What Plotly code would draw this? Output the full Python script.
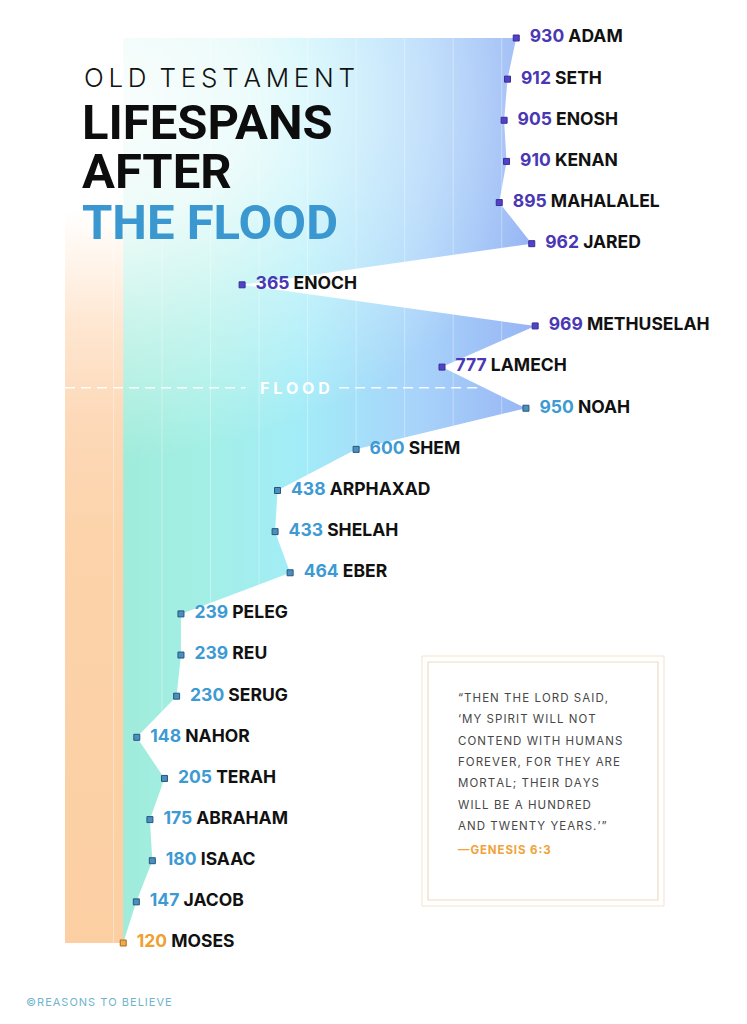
import plotly.graph_objects as go

# ---------------- data ----------------
names = ["ADAM", "SETH", "ENOSH", "KENAN", "MAHALALEL", "JARED", "ENOCH",
         "METHUSELAH", "LAMECH", "NOAH", "SHEM", "ARPHAXAD", "SHELAH", "EBER",
         "PELEG", "REU", "SERUG", "NAHOR", "TERAH", "ABRAHAM", "ISAAC", "JACOB", "MOSES"]
lifespans = [930, 912, 905, 910, 895, 962, 365, 969, 777, 950, 600, 438, 433, 464,
             239, 239, 230, 148, 205, 175, 180, 147, 120]
era = ["pre"] * 9 + ["post"] * 13 + ["limit"]
limit_years = 120
flood_row = 8.5
grid_years = [100, 200, 300, 400, 500, 600, 700, 800, 900]

quote_lines = ["\u201cTHEN THE LORD SAID,",
               "\u2018MY SPIRIT WILL NOT",
               "CONTEND WITH HUMANS",
               "FOREVER, FOR THEY ARE",
               "MORTAL; THEIR DAYS",
               "WILL BE A HUNDRED",
               "AND TWENTY YEARS.\u2019\u201d"]
quote_source = "\u2014GENESIS 6:3"

# ---------------- styles ----------------
PAGE_W, PAGE_H = 747, 1024
OFF = 8                      # default body margin of the html page
W, H = PAGE_W - 2 * OFF, PAGE_H - 2 * OFF
num_col = {"pre": "#4a37b4", "post": "#3d9ad2", "limit": "#f0a030"}
mk_fill = {"pre": "#5142c6", "post": "#4a8fbe", "limit": "#f2a94c"}
mk_line = {"pre": "#3a2e9c", "post": "#25577d", "limit": "#a86c1e"}
FONT = "Inter"

def P(px):
    return (px - OFF) / W

def Q(py):
    return 1 - (py - OFF) / H

def spaced(s, sep="\u2009"):
    return sep.join(list(s))

rows = list(range(len(names)))
n_last = rows[-1]

# axis mapping: value 0 -> page x 65, 0.4852 px per year ; row 0 -> page y 38, 41.136 px per row
ppy = 0.4852
ppr = 41.136
x0_px, y0_px = 65 - OFF, 38 - OFF
x_range = [-x0_px / ppy, (W - x0_px) / ppy]
y_range = [(H - y0_px) / ppr, -y0_px / ppr]

fig = go.Figure()

# main lifespan area
fig.add_trace(go.Scatter(
    x=lifespans + [0, 0], y=rows + [n_last, 0],
    mode="lines", fill="toself", line=dict(width=0, color="rgba(0,0,0,0)"),
    fillgradient=dict(type="horizontal", start=0, stop=max(lifespans),
                      colorscale=[[0.0, "#9ee9d2"], [0.3, "#a3efe6"], [0.5, "#a2ecf8"],
                                  [0.75, "#a8d3fa"], [1.0, "#97b4f4"]]),
    hoverinfo="skip", showlegend=False))

# white glow in the upper-left corner
gx0, gx1, gy0, gy1 = -950, 1030, -7.2, 10.3
fig.add_trace(go.Scatter(
    x=[gx0, gx1, gx1, gx0, gx0], y=[gy0, gy0, gy1, gy1, gy0],
    mode="lines", fill="toself", line=dict(width=0, color="rgba(0,0,0,0)"),
    fillgradient=dict(type="radial",
                      colorscale=[[0.0, "rgba(255,255,255,0.97)"], [0.35, "rgba(255,255,255,0.8)"],
                                  [0.65, "rgba(255,255,255,0.4)"], [1.0, "rgba(255,255,255,0)"]]),
    hoverinfo="skip", showlegend=False))

# 120-year band (white at top fading into peach)
fig.add_trace(go.Scatter(
    x=[0, limit_years, limit_years, 0, 0], y=[0, 0, n_last, n_last, 0],
    mode="lines", fill="toself", line=dict(width=0, color="rgba(0,0,0,0)"),
    fillgradient=dict(type="vertical", start=0, stop=n_last,
                      colorscale=[[0.0, "rgba(255,255,255,1)"], [0.19, "rgba(255,255,255,1)"],
                                  [0.25, "rgba(255,244,234,1)"], [0.32, "rgba(254,230,208,1)"],
                                  [0.42, "rgba(253,217,185,1)"], [0.55, "rgba(252,211,170,1)"],
                                  [1.0, "rgba(252,207,163,1)"]]),
    hoverinfo="skip", showlegend=False))

# grid lines
gx, gy = [], []
for g in grid_years:
    gx += [g, g, None]
    gy += [0, n_last, None]
fig.add_trace(go.Scatter(x=gx, y=gy, mode="lines",
                         line=dict(color="rgba(255,255,255,0.35)", width=1),
                         hoverinfo="skip", showlegend=False))

# flood line
fig.add_trace(go.Scatter(x=[0, 372, None, 565, 860], y=[flood_row] * 2 + [None] + [flood_row] * 2,
                         mode="lines", line=dict(color="rgba(255,255,255,0.9)", width=1.5, dash="10px,6px"),
                         hoverinfo="skip", showlegend=False))

# markers + labels
labels = [f"\u2002<span style='color:{num_col[e]}'>{v}</span> {n}" for v, n, e in zip(lifespans, names, era)]
fig.add_trace(go.Scatter(
    x=lifespans, y=rows, mode="markers+text", text=labels, textposition="middle right",
    textfont=dict(family=FONT, size=17.5, color="#111111", weight=700),
    marker=dict(symbol="square", size=6, color=[mk_fill[e] for e in era],
                line=dict(width=1, color=[mk_line[e] for e in era])),
    cliponaxis=False, hoverinfo="skip", showlegend=False))

annotations = []
annotations.append(dict(x=474, y=flood_row, xref="x", yref="y",
                        text="<b>" + spaced("FLOOD", "\u2009\u200a") + "</b>",
                        showarrow=False, font=dict(family=FONT, size=16, color="white")))

# title
annotations.append(dict(x=P(82), y=Q(78), xref="paper", yref="paper", xanchor="left", yanchor="middle",
                        text=spaced("OLD", "\u2009") + "\u2002" + spaced("TESTAMENT", "\u2009"), showarrow=False,
                        font=dict(family=FONT, size=26, color="#111111", weight=300)))
for txt, yc, col in [("LIFESPANS", 122, "#0d0d0d"), ("AFTER", 172, "#0d0d0d"), ("THE FLOOD", 222, "#3a97cf")]:
    annotations.append(dict(x=P(80), y=Q(yc), xref="paper", yref="paper", xanchor="left", yanchor="middle",
                            text=txt, showarrow=False,
                            font=dict(family="Roboto", size=49, color=col, weight=700)))

# quote
for i, line in enumerate(quote_lines):
    annotations.append(dict(x=P(456), y=Q(697.7 + 21.4 * i), xref="paper", yref="paper",
                            xanchor="left", yanchor="middle", text=spaced(line, "\u200a"), showarrow=False,
                            font=dict(family=FONT, size=11.5, color="#474747")))
annotations.append(dict(x=P(456), y=Q(850), xref="paper", yref="paper", xanchor="left", yanchor="middle",
                        text="<b>" + spaced(quote_source, "\u200a") + "</b>", showarrow=False,
                        font=dict(family=FONT, size=11.5, color="#f0a33a")))

# footer
annotations.append(dict(x=P(24), y=Q(1002), xref="paper", yref="paper", xanchor="left", yanchor="middle",
                        text=spaced("\u00a9REASONS TO BELIEVE", "\u200a"), showarrow=False,
                        font=dict(family=FONT, size=11, color="#6fb4cd")))

shapes = [
    dict(type="rect", xref="paper", yref="paper", x0=P(422), x1=P(664), y0=Q(656), y1=Q(906),
         line=dict(color="#f3e3ca", width=1), layer="above"),
    dict(type="rect", xref="paper", yref="paper", x0=P(428), x1=P(658), y0=Q(662), y1=Q(900),
         line=dict(color="#efdcc0", width=1.2), layer="above"),
]

fig.update_layout(
    width=W, height=H, margin=dict(l=0, r=0, t=0, b=0),
    paper_bgcolor="white", plot_bgcolor="white",
    xaxis=dict(range=x_range, visible=False, fixedrange=True),
    yaxis=dict(range=y_range, visible=False, fixedrange=True),
    annotations=annotations, shapes=shapes, showlegend=False,
)

fig.write_html("out.html")
